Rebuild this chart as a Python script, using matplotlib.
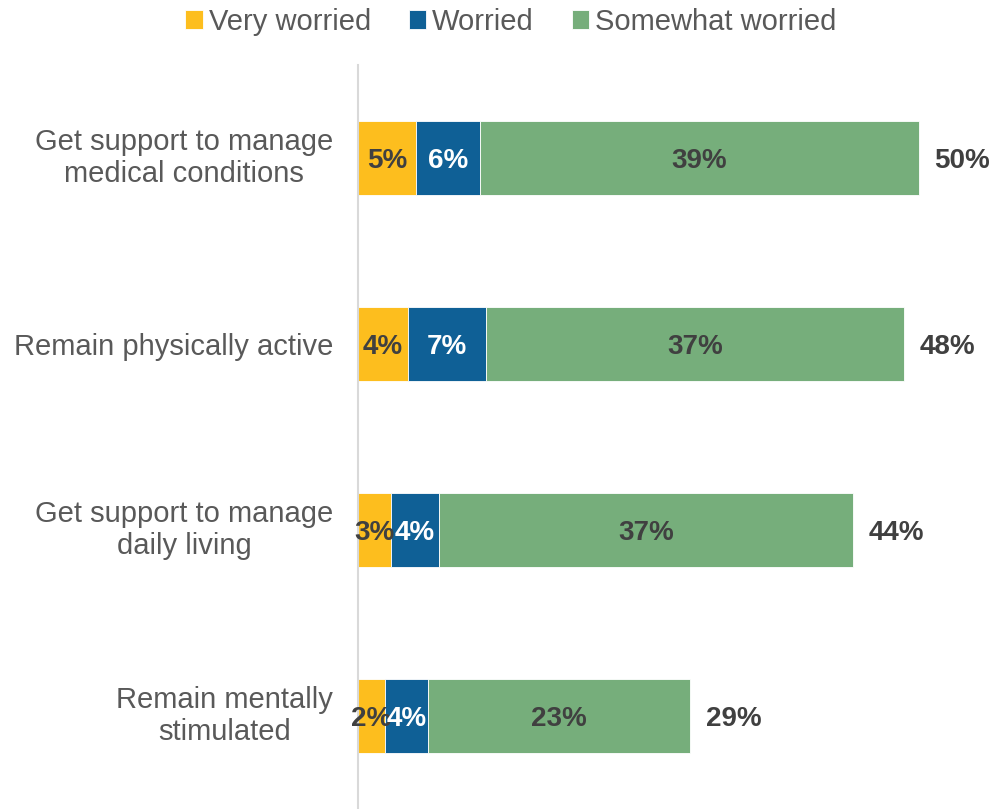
import matplotlib
matplotlib.use("Agg")
import matplotlib.pyplot as plt

plt.rcParams['font.family'] = ['Liberation Sans', 'DejaVu Sans']

categories = [
    "Get support to manage\nmedical conditions",
    "Remain physically active",
    "Get support to manage\ndaily living",
    "Remain mentally\nstimulated",
]
series_names = ["Very worried", "Worried", "Somewhat worried"]
very_worried = [5.1, 4.4, 2.9, 2.4]
worried = [5.7, 6.9, 4.3, 3.8]
somewhat_worried = [38.8, 37.0, 36.6, 23.2]

colors = ["#FDBE1E", "#0F6096", "#76AE7B"]
label_colors = ["#404040", "white", "#404040"]

fig = plt.figure(figsize=(9.94, 8.09), dpi=100)
ax = fig.add_axes([0.3602, 0.0, 0.6366, 0.92])

y = list(range(len(categories)))
left = [0.0] * len(categories)
for name, vals, col, lcol in zip(series_names, [very_worried, worried, somewhat_worried], colors, label_colors):
    ax.barh(y, vals, left=left, height=0.4, color=col, edgecolor="white", linewidth=0.6, label=name)
    for yi, l, v in zip(y, left, vals):
        ax.text(l + v / 2, yi, f"{v:.0f}%", ha="center", va="center_baseline",
                fontsize=20, fontweight="bold", color=lcol)
    left = [a + b for a, b in zip(left, vals)]

# totals
for yi, tot in zip(y, left):
    ax.annotate(f"{tot:.0f}%", (tot, yi), xytext=(11.5, 0), textcoords="offset points",
                ha="left", va="center_baseline", fontsize=20, fontweight="bold", color="#404040")

ax.set_xlim(0, 56)
ax.set_ylim(3.5, -0.5)
ax.set_yticks(y)
ax.set_yticklabels(categories, fontsize=21, color="#595959", multialignment="center")
for lab in ax.get_yticklabels():
    if "\n" in lab.get_text():
        lab.set_va("center")
ax.tick_params(axis="y", length=0, pad=18)
ax.set_xticks([])
for s in ["top", "right", "bottom"]:
    ax.spines[s].set_visible(False)
ax.spines["left"].set_color("#D9D9D9")
ax.spines["left"].set_linewidth(1.5)

fig.legend(loc="center", bbox_to_anchor=(0.514, 0.973), ncol=3, frameon=False,
           fontsize=21, handlelength=0.6, handleheight=0.6, handletextpad=0.2,
           columnspacing=1.3, labelcolor="#595959")

fig.savefig("out.png", dpi=100)
